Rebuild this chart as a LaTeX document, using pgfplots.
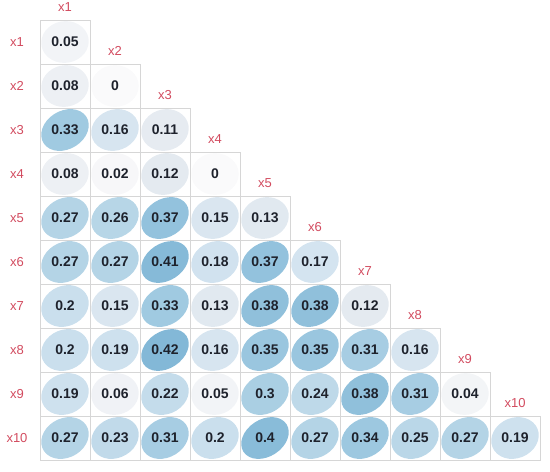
\documentclass[border=0pt]{standalone}
\usepackage{pgfplots}
\pgfplotsset{compat=1.18}
\usepackage{pgfplotstable}
\usepackage{fontspec}
\setmainfont{Liberation Sans}
\definecolor{lblred}{RGB}{210,75,95}
\definecolor{cellgrid}{RGB}{214,214,214}
\definecolor{numtext}{RGB}{30,34,44}
\pgfdeclareplotmark{emptymark}{}
\pgfplotstableread{
x y r
1 1 0.05
1 2 0.08
2 2 0
1 3 0.33
2 3 0.16
3 3 0.11
1 4 0.08
2 4 0.02
3 4 0.12
4 4 0
1 5 0.27
2 5 0.26
3 5 0.37
4 5 0.15
5 5 0.13
1 6 0.27
2 6 0.27
3 6 0.41
4 6 0.18
5 6 0.37
6 6 0.17
1 7 0.2
2 7 0.15
3 7 0.33
4 7 0.13
5 7 0.38
6 7 0.38
7 7 0.12
1 8 0.2
2 8 0.19
3 8 0.42
4 8 0.16
5 8 0.35
6 8 0.35
7 8 0.31
8 8 0.16
1 9 0.19
2 9 0.06
3 9 0.22
4 9 0.05
5 9 0.3
6 9 0.24
7 9 0.38
8 9 0.31
9 9 0.04
1 10 0.27
2 10 0.23
3 10 0.31
4 10 0.2
5 10 0.4
6 10 0.27
7 10 0.34
8 10 0.25
9 10 0.27
10 10 0.19
}\corrdata
\begin{document}
\begin{tikzpicture}
\useasboundingbox (0,0) rectangle (550bp,472bp);
\begin{axis}[
  at={(40bp,12bp)}, anchor=south west,
  width=500bp, height=440bp, scale only axis,
  xmin=0.5, xmax=10.5, ymin=0.5, ymax=10.5, y dir=reverse,
  hide axis, clip=false,
  colormap={corr}{rgb255(0cm)=(250,250,251) rgb255(8cm)=(237,240,244) rgb255(12cm)=(228,234,240) rgb255(17cm)=(212,228,240) rgb255(27cm)=(180,212,230) rgb255(33cm)=(160,202,225) rgb255(42cm)=(131,184,215)},
  point meta min=0, point meta max=0.42,
]
\addplot[scatter, only marks, mark=emptymark,
  point meta=\thisrow{r},
  visualization depends on={\thisrow{r} \as \rval},
  scatter/@pre marker code/.code={%
    \pgfplotscolormapdefinemappedcolor{\pgfplotspointmetatransformed}%
    \pgfmathsetmacro\myc{sqrt((1+0.7*\rval)/2)}%
    \pgfmathsetmacro\mys{sqrt((1-0.7*\rval)/2)}%
    \pgfmathsetmacro\myax{0.95*25*\myc}%
    \pgfmathsetmacro\myay{0.95*22*\myc}%
    \pgfmathsetmacro\mybx{0.95*25*\mys}%
    \pgfmathsetmacro\myby{0.95*22*\mys}%
    \pgfsetstrokecolor{cellgrid}\pgfsetlinewidth{0.8bp}%
    \pgfpathrectangle{\pgfpoint{-25bp}{-22bp}}{\pgfpoint{50bp}{44bp}}\pgfusepath{stroke}%
    \pgfpathellipse{\pgfpointorigin}{\pgfpoint{\myax bp}{\myay bp}}{\pgfpoint{-\mybx bp}{\myby bp}}%
    \pgfsetfillcolor{mapped color}\pgfusepath{fill}%
  },
  scatter/@post marker code/.code={},
] table[x=x, y=y] {\corrdata};
\addplot[only marks, mark=emptymark,
  point meta=\thisrow{r},
  nodes near coords,
  nodes near coords align={center},
  every node near coord/.style={anchor=center, font=\fontsize{14bp}{16bp}\selectfont\bfseries, text=numtext, /pgf/number format/.cd, fixed, precision=2, assume math mode=true},
] table[x=x, y=y] {\corrdata};
\pgfplotsinvokeforeach{1,...,10}{
  \node[text=lblred, font=\fontsize{13bp}{15bp}\selectfont] at (axis cs:#1, #1-0.8) {x#1};
  \node[text=lblred, font=\fontsize{13bp}{15bp}\selectfont] at (axis cs:0.04, #1) {x#1};
}
\end{axis}
\end{tikzpicture}
\end{document}
